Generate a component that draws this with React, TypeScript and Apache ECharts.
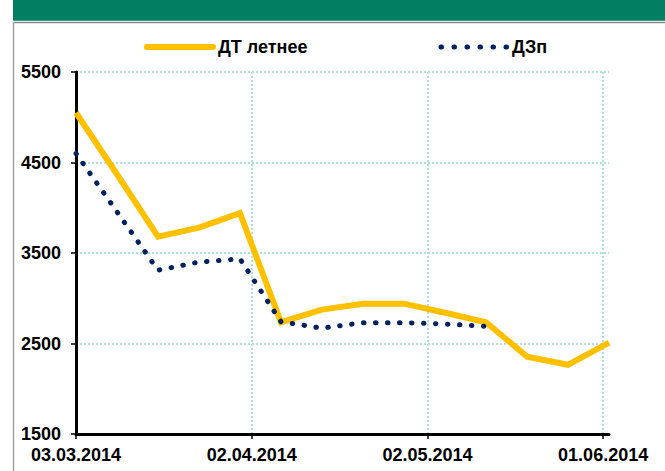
import React, { useEffect, useRef } from "react";
import * as echarts from "echarts";

// ---- data ----
const weekDates = [
  "03.03.2014", "10.03.2014", "17.03.2014", "24.03.2014", "31.03.2014",
  "07.04.2014", "14.04.2014", "21.04.2014", "28.04.2014", "05.05.2014",
  "12.05.2014", "19.05.2014", "26.05.2014", "02.06.2014",
];
const dtSummer = [5050, 4370, 3680, 3780, 3940, 2735, 2875, 2940, 2940, 2840, 2735, 2355, 2265, 2510];
const dzp = [4600, 3955, 3310, 3400, 3435, 2740, 2670, 2730, 2730, 2715, 2690];
const xTickLabels = ["03.03.2014", "02.04.2014", "02.05.2014", "01.06.2014"];
const yTicks = [1500, 2500, 3500, 4500, 5500];
const seriesNames = ["ДТ летнее", "ДЗп"];

const DAY = 24 * 3600 * 1000;
const parse = (s: string) => {
  const [d, m, y] = s.split(".").map(Number);
  return Date.UTC(y, m - 1, d);
};
const base = parse(weekDates[0]);
const toDay = (s: string) => Math.round((parse(s) - base) / DAY);
const fmt = (v: number) => {
  const dt = new Date(base + v * DAY);
  const dd = String(dt.getUTCDate()).padStart(2, "0");
  const mm = String(dt.getUTCMonth() + 1).padStart(2, "0");
  return `${dd}.${mm}.${dt.getUTCFullYear()}`;
};

const FONT = "'Liberation Sans', Arial, sans-serif";
const YELLOW = "#ffc000";
const NAVY = "#002060";
const DOTS = [0.5, 11.5];

export default function App() {
  const ref = useRef<HTMLDivElement>(null);
  useEffect(() => {
    if (!ref.current) return;
    const chart = echarts.init(ref.current, null, { renderer: "svg" });
    const xDays = weekDates.map(toDay);
    const tickDays = xTickLabels.map(toDay);
    const lastDay = xDays[xDays.length - 1];
    const gridColor = "#a9e5d7";
    const labelFont = { fontFamily: FONT, fontWeight: "bold", fontSize: 18, color: "#000" };
    chart.setOption({
      animation: false,
      backgroundColor: "#ffffff",
      graphic: [
        { type: "rect", shape: { x: 13, y: 0, width: 652, height: 20.7 }, style: { fill: "#007f62" }, silent: true },
        { type: "line", shape: { x1: 13, y1: 22.5, x2: 665, y2: 22.5 }, style: { stroke: "#8a8a8a", lineWidth: 1.5 }, silent: true },
        { type: "line", shape: { x1: 13.5, y1: 22, x2: 13.5, y2: 471 }, style: { stroke: "#a0a0a0", lineWidth: 1.5 }, silent: true },
      ],
      legend: {
        left: 144,
        top: 38,
        padding: 0,
        itemWidth: 66,
        itemHeight: 14,
        itemGap: 131,
        itemStyle: { opacity: 0 },
        textStyle: labelFont,
        data: [
          { name: seriesNames[0], lineStyle: { color: YELLOW, width: 6, cap: "round" } },
          { name: seriesNames[1], lineStyle: { color: NAVY, width: 5, type: [0.5, 12.5], cap: "round" } },
        ],
      },
      grid: { left: 76, right: 56, top: 72, bottom: 37, containLabel: false, outerBoundsMode: "none" },
      xAxis: {
        type: "value",
        min: 0,
        max: lastDay,
        axisLine: { show: true, lineStyle: { color: "#000", width: 3 } },
        axisTick: { show: true, length: 5, lineStyle: { color: "#000", width: 1.5 }, customValues: tickDays },
        axisLabel: {
          customValues: tickDays,
          formatter: (v: number) => fmt(v),
          margin: 12,
          ...labelFont,
        },
        splitLine: { show: true, lineStyle: { color: gridColor, width: 2, type: [2, 2] } },
      },
      yAxis: {
        type: "value",
        min: yTicks[0],
        max: yTicks[yTicks.length - 1],
        interval: 1000,
        axisLine: { show: true, lineStyle: { color: "#000", width: 3 } },
        axisTick: { show: true, length: 5, lineStyle: { color: "#000", width: 1.5 } },
        axisLabel: {
          margin: 15,
          formatter: (v: number) => String(v),
          ...labelFont,
        },
        splitLine: { show: true, lineStyle: { color: gridColor, width: 2, type: [2, 2] } },
      },
      series: [
        {
          name: seriesNames[0],
          type: "line",
          symbol: "none",
          data: dtSummer.map((v, i) => [xDays[i], v]),
          lineStyle: { color: YELLOW, width: 6, join: "miter" },
          itemStyle: { color: YELLOW },
          z: 3,
        },
        {
          name: seriesNames[1],
          type: "line",
          symbol: "none",
          data: dzp.map((v, i) => [xDays[i], v]),
          lineStyle: { color: NAVY, width: 5, type: DOTS, cap: "round" },
          itemStyle: { color: NAVY },
          z: 4,
        },
      ],
    });
    return () => chart.dispose();
  }, []);
  return (
    <div
      ref={ref}
      style={{ position: "absolute", left: 0, top: 0, width: 665, height: 471, background: "#fff" }}
    />
  );
}
